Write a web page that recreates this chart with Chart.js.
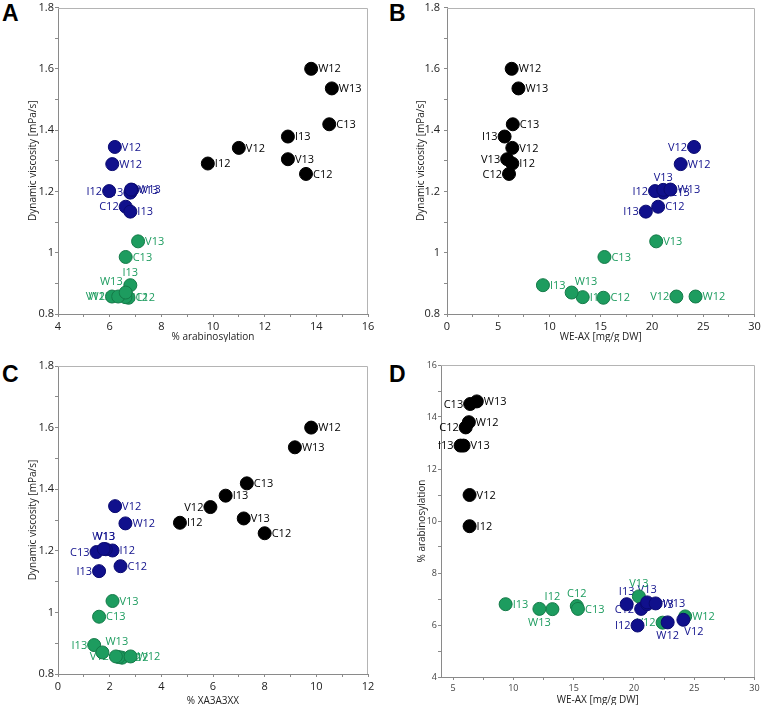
<!DOCTYPE html>
<html><head><meta charset="utf-8">
<script src="https://cdn.jsdelivr.net/npm/chart.js@4.4.0/dist/chart.umd.min.js"></script>
<style>
body{margin:0;background:#fff;width:763px;height:708px;overflow:hidden;position:relative;}
canvas{position:absolute;}
.lt{position:absolute;font:bold 23px 'Liberation Sans',Arial,sans-serif;color:#000;line-height:23px;}
</style></head><body>
<div class="lt" style="left:2px;top:2px">A</div>
<div class="lt" style="left:389px;top:2px">B</div>
<div class="lt" style="left:2px;top:363px">C</div>
<div class="lt" style="left:389px;top:363px">D</div>
<canvas id="cA" width="348" height="342" style="left:28px;top:0px"></canvas>
<canvas id="cB" width="346" height="342" style="left:416px;top:0px"></canvas>
<canvas id="cC" width="348" height="356" style="left:28px;top:350px"></canvas>
<canvas id="cD" width="345" height="355" style="left:417px;top:350px"></canvas>
<script>
// ---- data ----
const samples = ['C12','C13','I12','I13','V12','V13','W12','W13'];
// black group
const blackVisc = [1.257,1.419,1.291,1.379,1.342,1.305,1.600,1.536];
const blackArab = [13.6,14.5,9.8,12.9,11.0,12.9,13.8,14.6];
const blackWEAX = [6.05,6.42,6.37,5.62,6.37,5.87,6.31,6.97];
const blackXA3  = [8.00,7.31,4.72,6.49,5.90,7.19,9.80,9.17];
// blue group
const blueVisc = [1.150,1.196,1.201,1.134,1.345,1.205,1.289,1.206];
const blueArab = [6.62,6.80,5.98,6.80,6.20,6.87,6.10,6.83];
const blueWEAX = [20.6,21.1,20.3,19.4,24.1,21.1,22.8,21.8];
const blueXA3  = [2.42,1.49,2.11,1.59,2.21,1.85,2.61,1.77];
// green group
const greenVisc = [0.853,0.986,0.855,0.894,0.857,1.037,0.857,0.870];
const greenArab = [6.73,6.62,6.61,6.80,6.09,7.10,6.33,6.62];
const greenWEAX = [15.26,15.36,13.24,9.36,22.38,20.41,24.25,12.16];
const greenXA3  = [2.48,1.59,2.35,1.40,2.24,2.11,2.81,1.72];
// ticks
const viscTicks = [0.8,0.9,1,1.1,1.2,1.3,1.4,1.5,1.6,1.7,1.8];
const viscLabels = [0.8,1,1.2,1.4,1.6,1.8];
const arabXTicks = [4,5,6,7,8,9,10,11,12,13,14,15,16];
const arabXLabels = [4,6,8,10,12,14,16];
const weaxTicks = [0,2.5,5,7.5,10,12.5,15,17.5,20,22.5,25,27.5,30];
const weaxLabels = [0,5,10,15,20,25,30];
const xa3Ticks = [0,1,2,3,4,5,6,7,8,9,10,11,12];
const xa3Labels = [0,2,4,6,8,10,12];
const weaxDTicks = [5,7.5,10,12.5,15,17.5,20,22.5,25,27.5,30];
const weaxDLabels = [5,10,15,20,25,30];
const arabYTicks = [4,5,6,7,8,9,10,11,12,13,14,15,16];
const arabYLabels = [4,6,8,10,12,14,16];

// ---- style ----
const COL = {black:'#000000', blue:'#10108c', green:'#1d9c5f'};
const EDGE = {black:'#000000', blue:'#0a0a70', green:'#147a48'};
Chart.defaults.font.family = "'Open Sans', sans-serif";

const labelPlugin = {
  id:'ptlabels',
  beforeDatasetsDraw(chart){
    const ctx = chart.ctx;
    ctx.save();
    ctx.font = "11px 'Open Sans', sans-serif";
    chart.data.datasets.forEach((ds, di) => {
      const meta = chart.getDatasetMeta(di);
      ctx.fillStyle = ds.labelColor;
      meta.data.forEach((el, i) => {
        const p = ds.labelPos[i]; if(!p) return;
        let x = el.x, y = el.y, a = 'left';
        if(p==='r'){x+=7;} else if(p==='l'){x-=7;a='right';}
        else if(p==='t'){y-=13;a='center';} else if(p==='b'){y+=13;a='center';}
        else if(p==='tl'){x-=3;y-=11;a='right';} else if(p==='tr'){x+=3;y-=11;}
        else if(p==='br'){x+=1;y+=12;}
        ctx.textAlign = a; ctx.textBaseline = 'middle';
        ctx.fillText(samples[i], x, y+0.5);
      });
    });
    ctx.restore();
  },
  afterDraw(chart){
    const a = chart.chartArea, ctx = chart.ctx;
    ctx.save();
    ctx.strokeStyle = '#b4b4b4'; ctx.lineWidth = 1;
    ctx.beginPath();
    ctx.moveTo(a.left, Math.round(a.top)+0.5);
    ctx.lineTo(Math.round(a.right)-0.5, Math.round(a.top)+0.5);
    ctx.lineTo(Math.round(a.right)-0.5, a.bottom);
    ctx.stroke();
    ctx.restore();
  }
};

function pts(xs, ys){ return xs.map((x,i)=>({x:x, y:ys[i]})); }
function ds(group, xs, ys, pos){
  return {data: pts(xs, ys), backgroundColor: COL[group], borderColor: EDGE[group], borderWidth: 1,
    pointRadius: 6.5, pointHoverRadius: 6.5, labelPos: pos, labelColor: COL[group]};
}
function axis(o){
  return {
    type:'linear', min:o.min, max:o.max,
    afterBuildTicks: s => { s.ticks = o.ticks.map(v=>({value:v})); },
    afterFit: s => {
      if(o.vertical){ s.width = o.size; } else { s.height = o.size; }
      s.paddingTop = 0; s.paddingBottom = 0; s.paddingLeft = 0; s.paddingRight = 0;
    },
    ticks:{autoSkip:false, maxRotation:0, padding:o.pad, color:o.tcol||'#222',
      font:{size:o.tsize||11},
      callback: v => o.labels.includes(v) ? String(v) : ''},
    grid:{drawOnChartArea:false, drawTicks:true, tickLength:3, color:'#8a8a8a'},
    border:{display:true, color:'#8a8a8a'},
    title:{display:true, text:o.title, color:'#222', font:{size:10, lineHeight:1}, padding:0}
  };
}
function make(id, datasets, xo, yo, pad){
  new Chart(document.getElementById(id), {
    type:'scatter',
    data:{datasets: datasets},
    options:{responsive:false, animation:false,
      layout:{padding:pad},
      plugins:{legend:{display:false}, tooltip:{enabled:false}},
      scales:{x: axis(xo), y: axis(Object.assign({vertical:true}, yo))}},
    plugins:[labelPlugin]
  });
}

// Panel A
make('cA', [
  ds('blue', blueArab, blueVisc, ['l','l','l','r','r','r','r','r']),
  ds('green', greenArab, greenVisc, ['r','r','r','t','l','r','l','tl']),
  ds('black', blackArab, blackVisc, ['r','r','r','r','r','r','r','r'])
], {min:4,max:16,ticks:arabXTicks,labels:arabXLabels,size:28,pad:3,title:'% arabinosylation'},
   {min:0.8,max:1.8,ticks:viscTicks,labels:viscLabels,size:30,pad:1,title:'Dynamic viscosity [mPa/s]'},
   {top:5,right:8,left:0,bottom:0});

// Panel B
make('cB', [
  ds('blue', blueWEAX, blueVisc, ['r','r','l','l','l','t','r','r']),
  ds('green', greenWEAX, greenVisc, ['r','r','r','r','l','r','r','tr']),
  ds('black', blackWEAX, blackVisc, ['l','r','r','l','r','l','r','r'])
], {min:0,max:30,ticks:weaxTicks,labels:weaxLabels,size:28,pad:3,title:'WE-AX [mg/g DW]'},
   {min:0.8,max:1.8,ticks:viscTicks,labels:viscLabels,size:31,pad:4,title:'Dynamic viscosity [mPa/s]'},
   {top:5,right:6,left:0,bottom:0});

// Panel C
make('cC', [
  ds('blue', blueXA3, blueVisc, ['r','l','r','l','r','t','r','t']),
  ds('green', greenXA3, greenVisc, ['r','r','r','l','l','r','r','tr']),
  ds('black', blackXA3, blackVisc, ['r','r','r','r','l','r','r','r'])
], {min:0,max:12,ticks:xa3Ticks,labels:xa3Labels,size:32,pad:3,title:'% XA3A3XX'},
   {min:0.8,max:1.8,ticks:viscTicks,labels:viscLabels,size:30,pad:1,title:'Dynamic viscosity [mPa/s]'},
   {top:16,right:8,left:0,bottom:0});

// Panel D
make('cD', [
  ds('blue', blueWEAX, blueArab, ['l','r','l','t','br','t','b','r']),
  ds('green', greenWEAX, greenArab, ['t','r','t','r','l','t','r','b']),
  ds('black', blackWEAX, blackArab, ['l','l','r','l','r','r','r','r'])
], {min:4,max:30,ticks:weaxDTicks,labels:weaxDLabels,size:28,pad:3,tsize:9,tcol:'#444',title:'WE-AX [mg/g DW]'},
   {min:4,max:16,ticks:arabYTicks,labels:arabYLabels,size:24,pad:1,tsize:9,tcol:'#444',title:'% arabinosylation'},
   {top:15,right:6,left:0,bottom:0});
</script>
</body></html>
